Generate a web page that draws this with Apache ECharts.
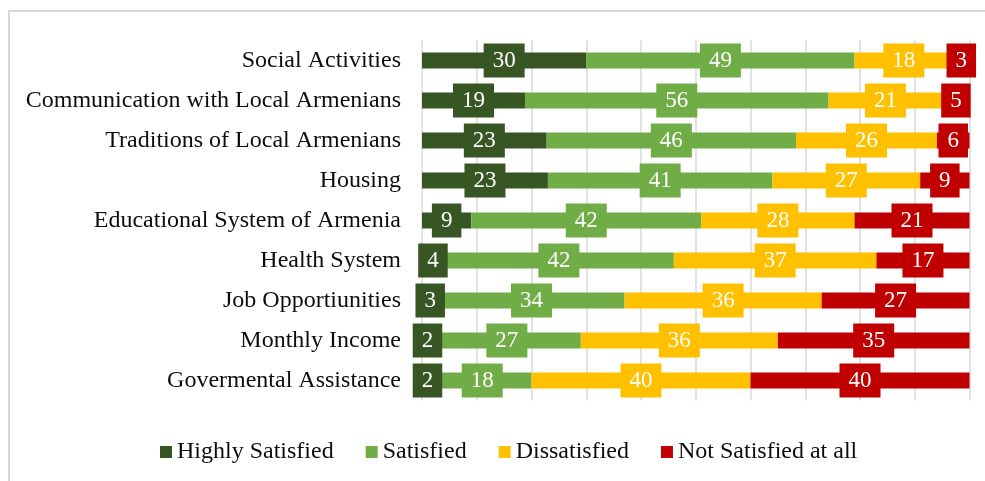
<!DOCTYPE html>
<html>
<head>
<meta charset="utf-8">
<script src="https://cdn.jsdelivr.net/npm/echarts@6/dist/echarts.min.js"></script>
<style>
html,body{margin:0;padding:0;background:#fff;}
#c{width:985px;height:481px;}
</style>
</head>
<body>
<div id="c"></div>
<script>
const categories = [
  'Social Activities',
  'Communication with Local Armenians',
  'Traditions of Local Armenians',
  'Housing',
  'Educational System of Armenia',
  'Health System',
  'Job Opportiunities',
  'Monthly Income',
  'Govermental Assistance'
];
const seriesNames = ['Highly Satisfied', 'Satisfied', 'Dissatisfied', 'Not Satisfied at all'];
const highlySatisfied = [30, 19, 23, 23, 9, 4, 3, 2, 2];
const satisfied       = [49, 56, 46, 41, 42, 42, 34, 27, 18];
const dissatisfied    = [18, 21, 26, 27, 28, 37, 36, 36, 40];
const notSatisfied    = [3, 5, 6, 9, 21, 17, 27, 35, 40];
const colors = ['#375623', '#70AD47', '#FFC000', '#C00000'];

const raw = [highlySatisfied, satisfied, dissatisfied, notSatisfied];
const totals = categories.map((_, i) => raw.reduce((s, arr) => s + arr[i], 0));
const FONT = "'Liberation Serif','Times New Roman',serif";

const series = raw.map((arr, k) => ({
  name: seriesNames[k],
  type: 'bar',
  stack: 'total',
  barWidth: 16,
  itemStyle: { color: colors[k] },
  data: arr.map((v, i) => v / totals[i] * 100),
  label: {
    show: true,
    position: 'inside',
    formatter: p => String(arr[p.dataIndex]),
    color: '#fff',
    fontFamily: FONT,
    fontSize: 23,
    lineHeight: 24,
    backgroundColor: colors[k],
    padding: [5, 9, 5, 9]
  },
  emphasis: { disabled: true }
}));

const chart = echarts.init(document.getElementById('c'));
chart.setOption({
  animation: false,
  graphic: [{
    type: 'rect',
    shape: { x: 9, y: 11, width: 1000, height: 500 },
    style: { fill: 'none', stroke: '#d9d9d9', lineWidth: 2 },
    silent: true, z: -10
  }],
  grid: { left: 422, right: 15.5, top: 40.5, bottom: 80.5, containLabel: false },
  legend: {
    data: seriesNames,
    left: 155,
    top: 435,
    icon: 'rect',
    itemWidth: 12,
    itemHeight: 12,
    itemGap: 32,
    textStyle: { fontFamily: FONT, fontSize: 24, color: '#0d0d0d' }
  },
  xAxis: {
    type: 'value',
    min: 0,
    max: 100,
    interval: 10,
    axisLabel: { show: false },
    axisLine: { show: false },
    axisTick: { show: false },
    splitLine: { show: true, lineStyle: { color: '#d9d9d9', width: 1.5 } }
  },
  yAxis: {
    type: 'category',
    inverse: true,
    data: categories,
    axisLine: { show: false },
    axisTick: { show: false },
    axisLabel: { fontFamily: FONT, fontSize: 24, color: '#0d0d0d', margin: 21 }
  },
  series: series
});
</script>
</body>
</html>
